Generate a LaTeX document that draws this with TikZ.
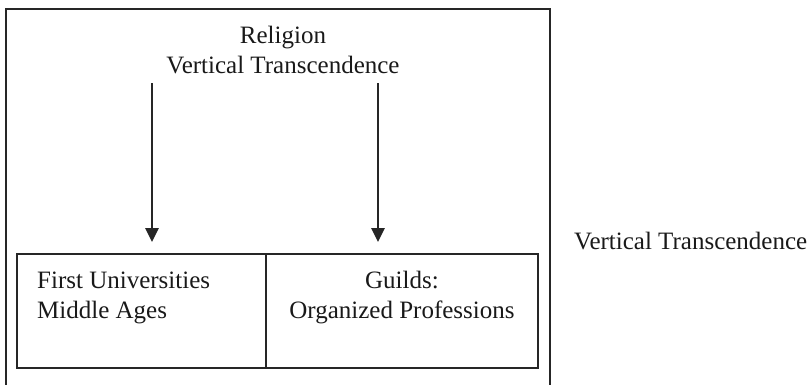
\documentclass[tikz,border=0pt]{standalone}
\usepackage{fontspec}
\setmainfont{Liberation Serif}
\usetikzlibrary{arrows.meta}
\begin{document}
\begin{tikzpicture}[x=1pt,y=1pt,
  frame/.style={line width=2.2pt, color=black!85},
  cellbox/.style={draw, line width=2pt, color=black!85, minimum width=249pt, minimum height=114pt, inner sep=0pt, anchor=south west},
  label/.style={font=\fontsize{25}{29.5}\selectfont, inner sep=0pt, text=black!90},
  arr/.style={line width=2.8pt, color=black!85, -{Triangle[length=14pt,width=13pt]}}]
\useasboundingbox (0,0) rectangle (807,384);
\begin{scope}
\clip (0,0) rectangle (807,384);
\draw[frame] (6,-5) -- (6,375) -- (550,375) -- (550,-5);
\end{scope}
\node[cellbox] (cellL) at (16,15) {};
\node[cellbox, minimum width=272pt] (cellR) at (265,15) {};
\node[label, align=center, anchor=base] (top) at (283,311) {Religion\\Vertical Transcendence};
\node[label, align=left, anchor=base west] (tl) at (37,66) {First Universities\\Middle Ages};
\node[label, align=center, anchor=base] (tr) at (402,66) {Guilds:\\Organized Professions};
\node[label, anchor=base west] (side) at (574,135) {Vertical Transcendence};
\coordinate (a1s) at (152,301);
\coordinate (a1e) at (152,142);
\coordinate (a2s) at (378,301);
\coordinate (a2e) at (378,142);
\draw[arr] (a1s) -- (a1e);
\draw[arr] (a2s) -- (a2e);
\end{tikzpicture}
\end{document}
